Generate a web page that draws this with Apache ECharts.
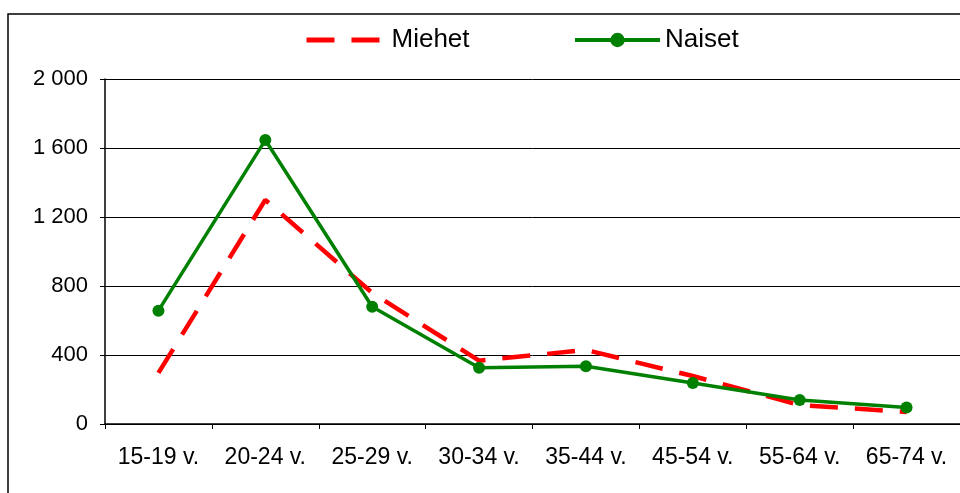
<!DOCTYPE html>
<html><head><meta charset="utf-8">
<script src="https://cdn.jsdelivr.net/npm/echarts@6/dist/echarts.min.js"></script>
<style>html,body{margin:0;padding:0;background:#fff}#c{width:960px;height:493px}</style>
</head><body><div id="c"></div>
<script>
const categories = ["15-19 v.","20-24 v.","25-29 v.","30-34 v.","35-44 v.","45-54 v.","55-64 v.","65-74 v."];
const miehet = [296, 1299, 760, 367, 429, 278, 110, 70];
const naiset = [657, 1646, 680, 326, 335, 238, 139, 96];
const yTicks = [0, 400, 800, 1200, 1600, 2000];

const chart = echarts.init(document.getElementById('c'), null, {renderer:'canvas'});
const font = 'Liberation Sans, Arial, sans-serif';
const legendText = {fontFamily:font, fontSize:26, color:'#000'};
chart.setOption({
  animation:false,
  backgroundColor:'#fff',
  graphic:[{type:'rect', shape:{x:8, y:14, width:1200, height:1000}, style:{fill:'none', stroke:'#000', lineWidth:1.5}, silent:true}],
  legend:[
    {left:299, top:22, itemWidth:75, itemHeight:18,
     textStyle:Object.assign({padding:[0,0,0,5]}, legendText),
     data:[{name:'Miehet', itemStyle:{opacity:0}, lineStyle:{width:5}}]},
    {left:568, top:22, itemWidth:85, itemHeight:18,
     textStyle:Object.assign({padding:[0,0,0,0]}, legendText),
     data:[{name:'Naiset', lineStyle:{width:4}}]}
  ],
  grid:{left:105, right:-3, top:79, bottom:69, containLabel:false},
  xAxis:{
    type:'category', data:categories, boundaryGap:true,
    axisLine:{lineStyle:{color:'#000', width:1.5}},
    axisTick:{show:true, length:5, inside:false, lineStyle:{color:'#000'}},
    axisLabel:{fontFamily:font, fontSize:23, color:'#000', margin:22, interval:0}
  },
  yAxis:{
    type:'value', min:0, max:2000, interval:400,
    axisLine:{show:true, lineStyle:{color:'#000', width:1.5}},
    axisTick:{show:true, length:5, lineStyle:{color:'#000'}},
    splitLine:{show:true, lineStyle:{color:'#000', width:1}},
    axisLabel:{fontFamily:font, fontSize:22, color:'#000', margin:17,
      formatter:v=>String(v).replace(/\B(?=(\d{3})+(?!\d))/g,' ')}
  },
  series:[
    {name:'Miehet', type:'line', data:miehet, symbol:'none', z:2,
     lineStyle:{color:'#ff0000', width:4.5, type:[28,17]}, itemStyle:{color:'#ff0000'}},
    {name:'Naiset', type:'line', data:naiset, symbol:'circle', symbolSize:12, z:3,
     lineStyle:{color:'#008000', width:3.5}, itemStyle:{color:'#008000'}}
  ]
});
</script></body></html>
